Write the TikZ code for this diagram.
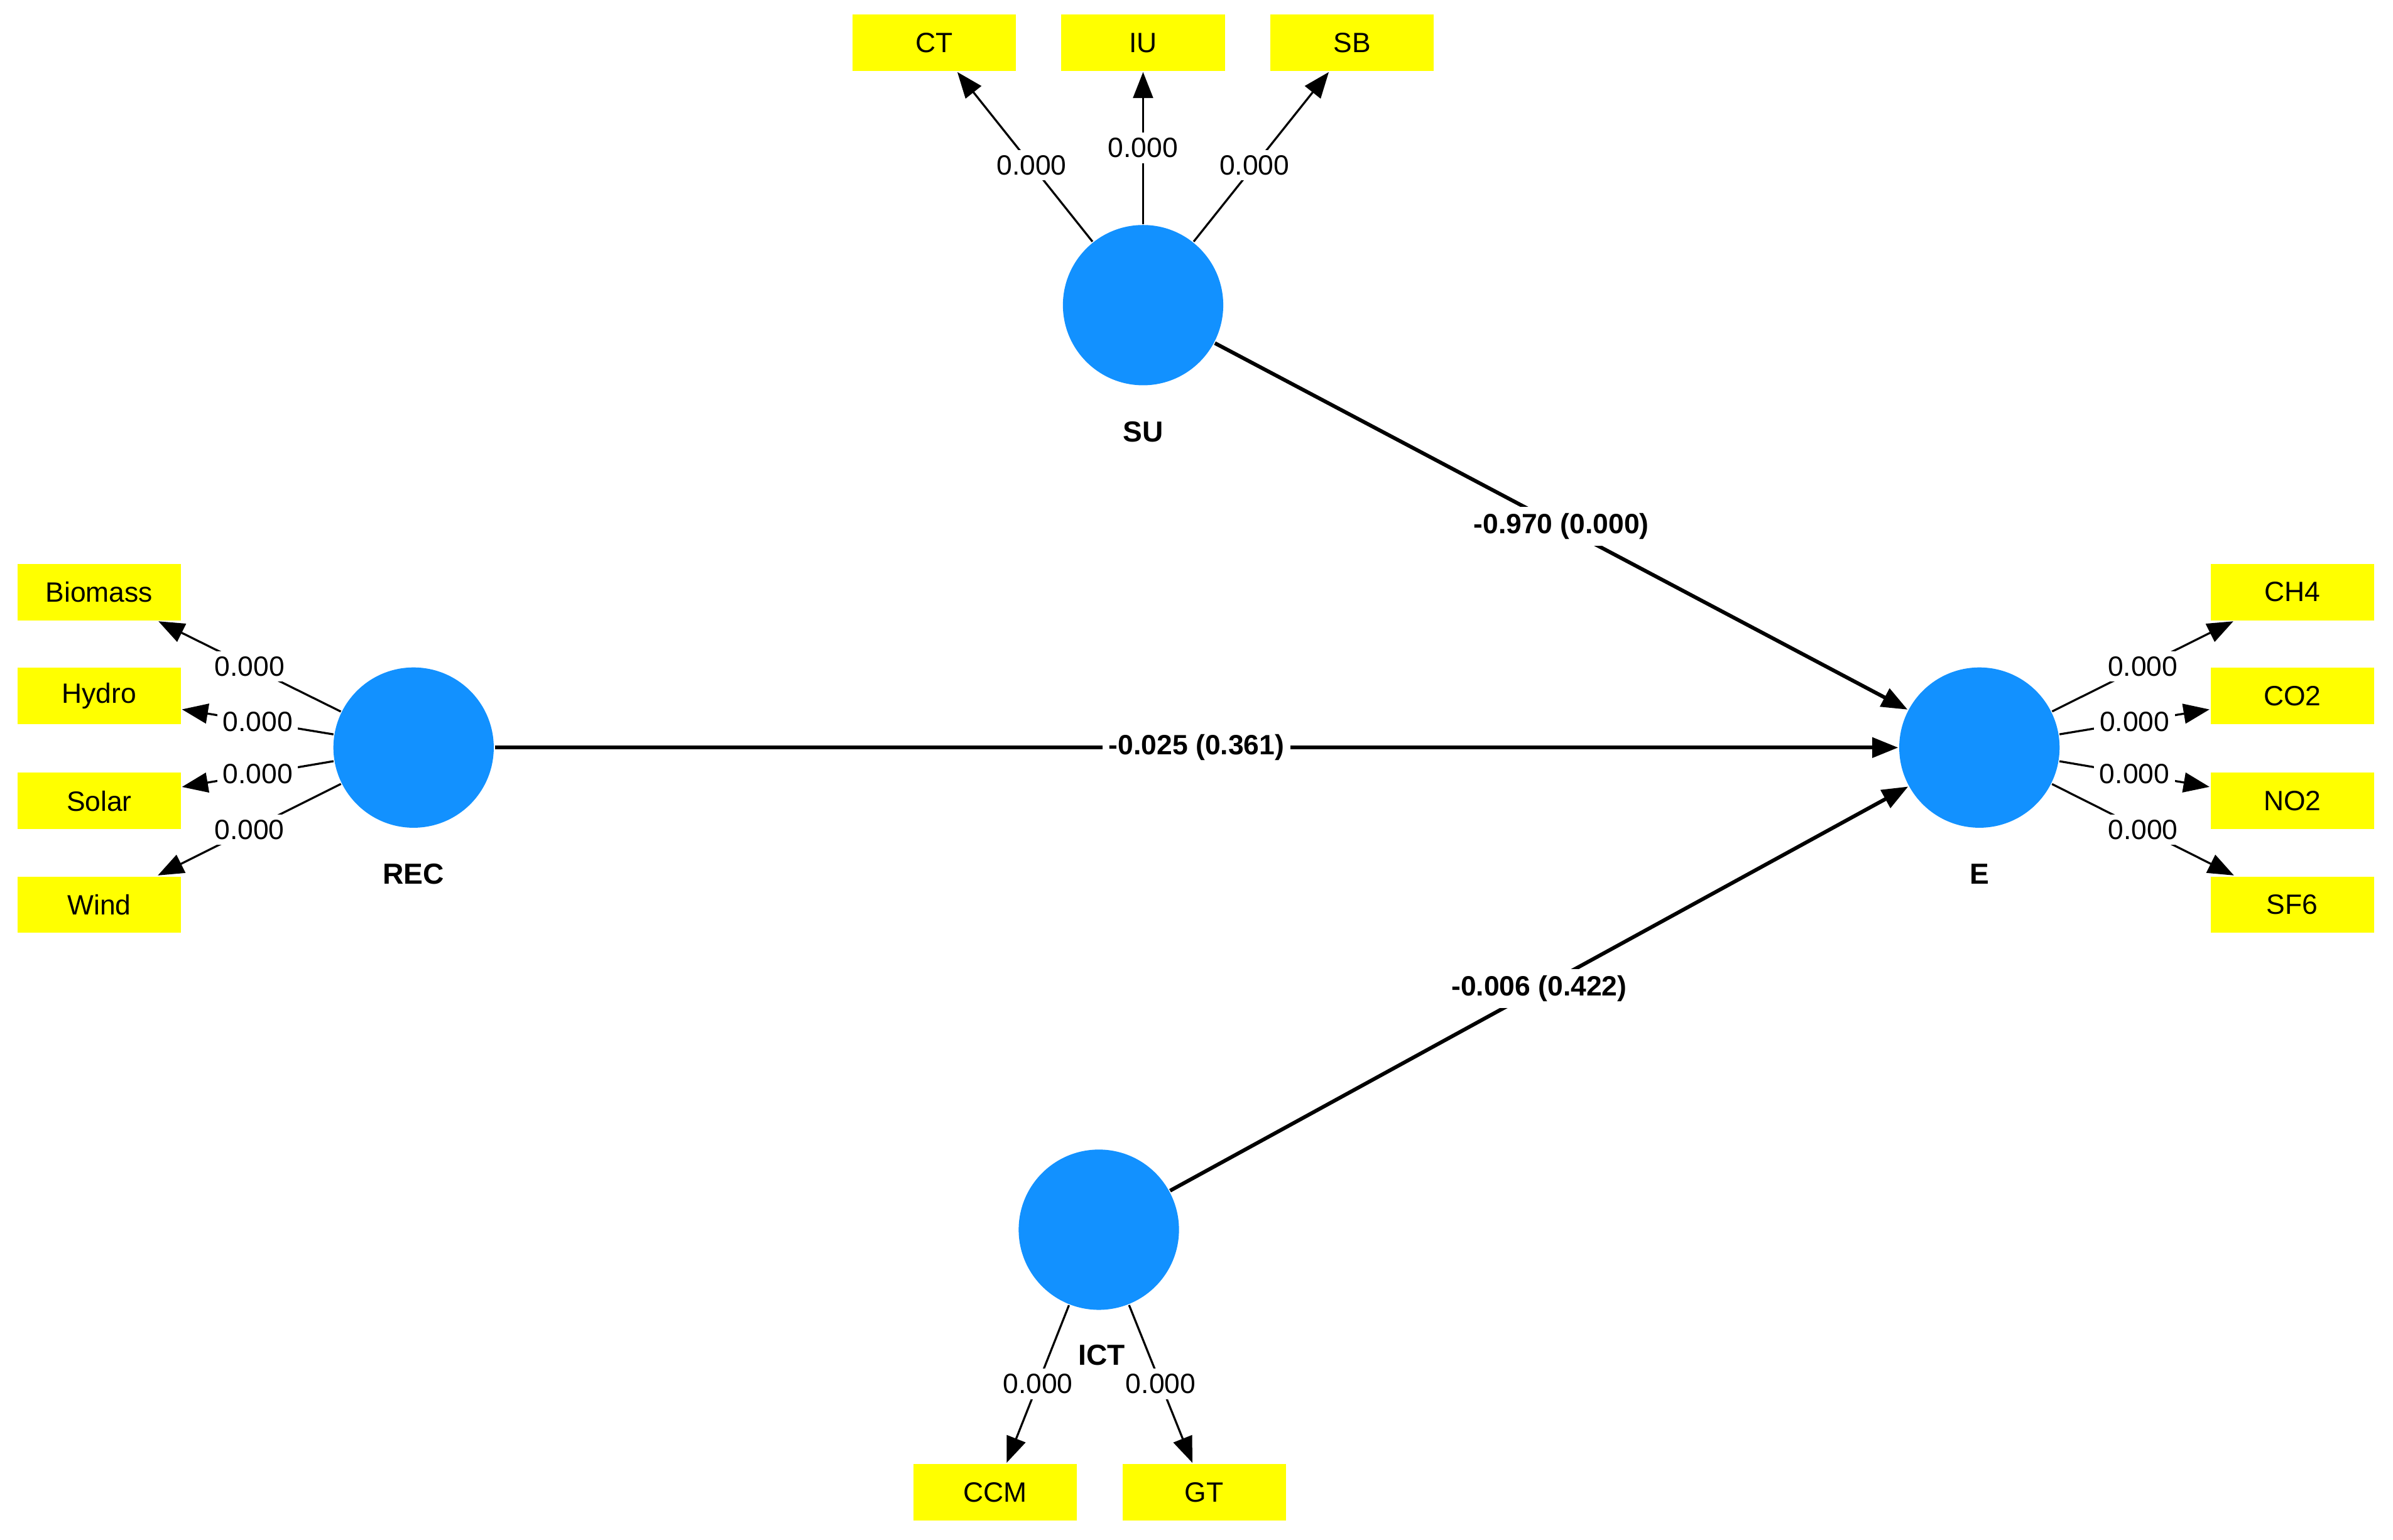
\documentclass[tikz,border=0pt]{standalone}
\usepackage{fontspec}
\setmainfont{Liberation Sans}
\usetikzlibrary{arrows.meta}
\definecolor{lvblue}{RGB}{18,145,255}
\definecolor{indyellow}{RGB}{255,255,0}
\begin{document}
\begin{tikzpicture}[x=0.01cm,y=-0.01cm,
  font=\fontsize{5.2}{6.2}\selectfont,
  lv/.style={circle, fill=lvblue, minimum size=1.05cm, inner sep=0pt},
  ind/.style={rectangle, fill=indyellow, minimum width=1.07cm, minimum height=0.37cm, inner sep=0pt},
  lvname/.style={inner sep=0pt, font=\fontsize{5.4}{6.4}\selectfont\bfseries},
  load/.style={draw, line width=0.38pt, -{Triangle[length=0.17cm,width=0.13cm]}},
  pathc/.style={draw, line width=0.7pt, -{Triangle[length=0.17cm,width=0.13cm]}},
  wt/.style={fill=white, inner sep=1pt},
  coef/.style={fill=white, inner sep=1.2pt, font=\fontsize{5.2}{6.2}\selectfont\bfseries}]
\useasboundingbox (0,0) rectangle (1568,1009);

% latent variables
\node[lv] (SU) at (749,200) {};
\node[lv] (REC) at (271,490) {};
\node[lv] (E) at (1297,490) {};
\node[lv] (ICT) at (720,806) {};

\node[lvname] (SUl) at (749,283) {SU};
\node[lvname] (RECl) at (271,573) {REC};
\node[lvname] (El) at (1297,573) {E};
\node[lvname] (ICTl) at (722,888) {ICT};

% indicators
\node[ind] (CT) at (612,28) {CT};
\node[ind] (IU) at (749,28) {IU};
\node[ind] (SB) at (886,28) {SB};

\node[ind] (Biomass) at (65,388) {Biomass};
\node[ind] (Hydro) at (65,456) {Hydro};
\node[ind] (Solar) at (65,525) {Solar};
\node[ind] (Wind) at (65,593) {Wind};

\node[ind] (CH4) at (1502,388) {CH4};
\node[ind] (CO2) at (1502,456) {CO2};
\node[ind] (NO2) at (1502,525) {NO2};
\node[ind] (SF6) at (1502,593) {SF6};

\node[ind] (CCM) at (652,978) {CCM};
\node[ind] (GT) at (789,978) {GT};

% loadings
\path[load] (SU) -- node[wt, pos=0.45] {0.000} (CT);
\path[load] (SU) -- node[wt] {0.000} (IU);
\path[load] (SU) -- node[wt, pos=0.45] {0.000} (SB);

\path[load] (REC) -- node[wt] {0.000} (Biomass);
\path[load] (REC) -- node[wt] {0.000} (Hydro);
\path[load] (REC) -- node[wt] {0.000} (Solar);
\path[load] (REC) -- node[wt] {0.000} (Wind);

\path[load] (E) -- node[wt] {0.000} (CH4);
\path[load] (E) -- node[wt] {0.000} (CO2);
\path[load] (E) -- node[wt] {0.000} (NO2);
\path[load] (E) -- node[wt] {0.000} (SF6);

\path[load] (ICT) -- node[wt] {0.000} (CCM);
\path[load] (ICT) -- node[wt] {0.000} (GT);

% structural paths
\path[pathc] (SU) -- node[coef] {-0.970 (0.000)} (E);
\path[pathc] (REC) -- node[coef] {-0.025 (0.361)} (E);
\path[pathc] (ICT) -- node[coef] {-0.006 (0.422)} (E);
\end{tikzpicture}
\end{document}
